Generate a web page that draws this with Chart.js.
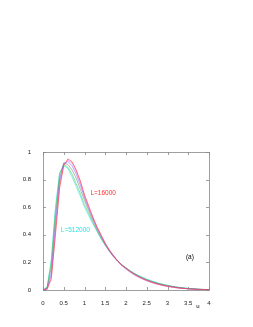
<!DOCTYPE html>
<html>
<head>
<meta charset="utf-8">
<script src="https://cdn.jsdelivr.net/npm/chart.js@4"></script>
<style>
  html, body { margin: 0; padding: 0; background: #fff; }
  #wrap { width: 253px; height: 327px; }
</style>
</head>
<body>
<div id="wrap"><canvas id="chart"></canvas></div>
<script>
// u grid, step 0.1
const u = [];
for (let i = 0; i <= 40; i++) u.push(+(i / 10).toFixed(1));

const redL16000 = [0, 0.005, 0.08, 0.40, 0.74, 0.90, 0.95, 0.93, 0.87, 0.79, 0.69,
  0.61, 0.53, 0.46, 0.40, 0.34, 0.29, 0.25, 0.21, 0.18, 0.16,
  0.135, 0.115, 0.098, 0.083, 0.07, 0.059, 0.049, 0.041, 0.034, 0.028,
  0.023, 0.018, 0.014, 0.011, 0.009, 0.007, 0.005, 0.004, 0.003, 0.002];
const magenta = [0, 0.01, 0.10, 0.43, 0.76, 0.91, 0.94, 0.92, 0.86, 0.78, 0.68,
  0.60, 0.52, 0.45, 0.39, 0.33, 0.28, 0.24, 0.205, 0.175, 0.15,
  0.128, 0.108, 0.092, 0.078, 0.066, 0.055, 0.046, 0.038, 0.031, 0.025,
  0.02, 0.016, 0.013, 0.01, 0.008, 0.006, 0.004, 0.003, 0.002, 0.001];
const blue = [0, 0.01, 0.12, 0.47, 0.79, 0.92, 0.93, 0.90, 0.84, 0.76, 0.67,
  0.59, 0.52, 0.45, 0.39, 0.335, 0.285, 0.245, 0.21, 0.18, 0.155,
  0.133, 0.114, 0.097, 0.083, 0.07, 0.059, 0.049, 0.041, 0.034, 0.028,
  0.023, 0.018, 0.015, 0.012, 0.009, 0.007, 0.005, 0.004, 0.003, 0.002];
const gray = [0, 0.015, 0.16, 0.52, 0.81, 0.92, 0.91, 0.87, 0.81, 0.73, 0.65,
  0.575, 0.505, 0.44, 0.385, 0.33, 0.285, 0.245, 0.21, 0.18, 0.157,
  0.135, 0.116, 0.1, 0.086, 0.073, 0.062, 0.052, 0.044, 0.037, 0.03,
  0.025, 0.02, 0.016, 0.013, 0.01, 0.008, 0.006, 0.004, 0.003, 0.002];
const green = [0, 0.02, 0.20, 0.57, 0.84, 0.91, 0.89, 0.84, 0.77, 0.70, 0.62,
  0.555, 0.49, 0.43, 0.375, 0.325, 0.282, 0.245, 0.212, 0.183, 0.16,
  0.139, 0.12, 0.104, 0.09, 0.077, 0.066, 0.056, 0.047, 0.04, 0.033,
  0.027, 0.022, 0.018, 0.014, 0.011, 0.009, 0.007, 0.005, 0.004, 0.003];
const cyanL512000 = [0, 0.02, 0.22, 0.60, 0.85, 0.90, 0.88, 0.82, 0.75, 0.68, 0.60,
  0.54, 0.48, 0.425, 0.37, 0.322, 0.28, 0.243, 0.211, 0.183, 0.16,
  0.14, 0.121, 0.105, 0.091, 0.078, 0.067, 0.057, 0.048, 0.041, 0.034,
  0.028, 0.023, 0.018, 0.015, 0.012, 0.009, 0.007, 0.005, 0.004, 0.003];

const xTicks = [0, 0.5, 1, 1.5, 2, 2.5, 3, 3.5, 4];
const yTicks = [0, 0.2, 0.4, 0.6, 0.8, 1];

const series = [
  { label: "L=16000", data: redL16000, color: "rgba(255,60,60,0.65)" },
  { label: "magenta", data: magenta, color: "rgba(230,80,230,0.5)" },
  { label: "blue", data: blue, color: "rgba(100,100,255,0.5)" },
  { label: "gray", data: gray, color: "rgba(110,110,110,0.5)" },
  { label: "green", data: green, color: "rgba(40,200,60,0.5)" },
  { label: "L=512000", data: cyanL512000, color: "rgba(40,230,230,0.6)" }
];

// texts placed in data coordinates
const notes = [
  { text: "L=16000", x: 1.45, y: 0.70, color: "#ff3030" },
  { text: "L=512000", x: 0.78, y: 0.43, color: "#30e0e0" },
  { text: "(a)", x: 3.54, y: 0.24, color: "#000" }
];

const frame = {
  id: "frame",
  afterDraw(chart) {
    const ctx = chart.ctx, a = chart.chartArea;
    const xs = chart.scales.x, ys = chart.scales.y;
    ctx.save();
    ctx.strokeStyle = "#888";
    ctx.lineWidth = 0.8;
    ctx.strokeRect(a.left + 0.5, a.top + 0.5, a.right - a.left, a.bottom - a.top);
    ctx.beginPath();
    xTicks.forEach(function (v) {
      const px = Math.round(xs.getPixelForValue(v)) + 0.5;
      ctx.moveTo(px, a.bottom); ctx.lineTo(px, a.bottom - 3);
      ctx.moveTo(px, a.top); ctx.lineTo(px, a.top + 3);
    });
    yTicks.forEach(function (v) {
      const py = Math.round(ys.getPixelForValue(v)) + 0.5;
      ctx.moveTo(a.left, py); ctx.lineTo(a.left + 3, py);
      ctx.moveTo(a.right, py); ctx.lineTo(a.right - 3, py);
    });
    ctx.stroke();
    ctx.font = "6.5px 'Liberation Sans', Arial, sans-serif";
    ctx.textAlign = "center";
    ctx.textBaseline = "middle";
    notes.forEach(function (n) {
      ctx.fillStyle = n.color;
      ctx.fillText(n.text, xs.getPixelForValue(n.x), ys.getPixelForValue(n.y));
    });
    ctx.fillStyle = "#000";
    ctx.font = "6px 'Liberation Sans', Arial, sans-serif";
    ctx.fillText("u", xs.getPixelForValue(3.73), a.bottom + 16);
    ctx.restore();
  }
};

const tickFont = { size: 6, family: "'Liberation Sans', Arial, sans-serif" };

new Chart(document.getElementById("chart"), {
  type: "line",
  data: {
    datasets: series.map(function (s) {
      return {
        label: s.label,
        data: u.map(function (x, i) { return { x: x, y: s.data[i] }; }),
        borderColor: s.color,
        borderWidth: 1,
        pointRadius: 0,
        fill: false
      };
    })
  },
  options: {
    responsive: true,
    maintainAspectRatio: false,
    animation: false,
    layout: { padding: { left: 0, right: 44, top: 152, bottom: 0 } },
    plugins: { legend: { display: false }, tooltip: { enabled: false } },
    scales: {
      x: {
        type: "linear",
        min: 0, max: 4,
        afterBuildTicks: function (s) { s.ticks = xTicks.map(function (v) { return { value: v }; }); },
        afterFit: function (s) { s.height = 37; },
        grid: { display: false },
        border: { display: false },
        ticks: { color: "#222", padding: 2, maxRotation: 0, font: tickFont,
          callback: function (v) { return String(v); } }
      },
      y: {
        min: 0, max: 1,
        afterBuildTicks: function (s) { s.ticks = yTicks.map(function (v) { return { value: v }; }); },
        afterFit: function (s) { s.width = 43; },
        grid: { display: false },
        border: { display: false },
        ticks: { color: "#222", padding: 4, font: tickFont,
          callback: function (v) { return String(v); } }
      }
    }
  },
  plugins: [frame]
});
</script>
</body>
</html>
